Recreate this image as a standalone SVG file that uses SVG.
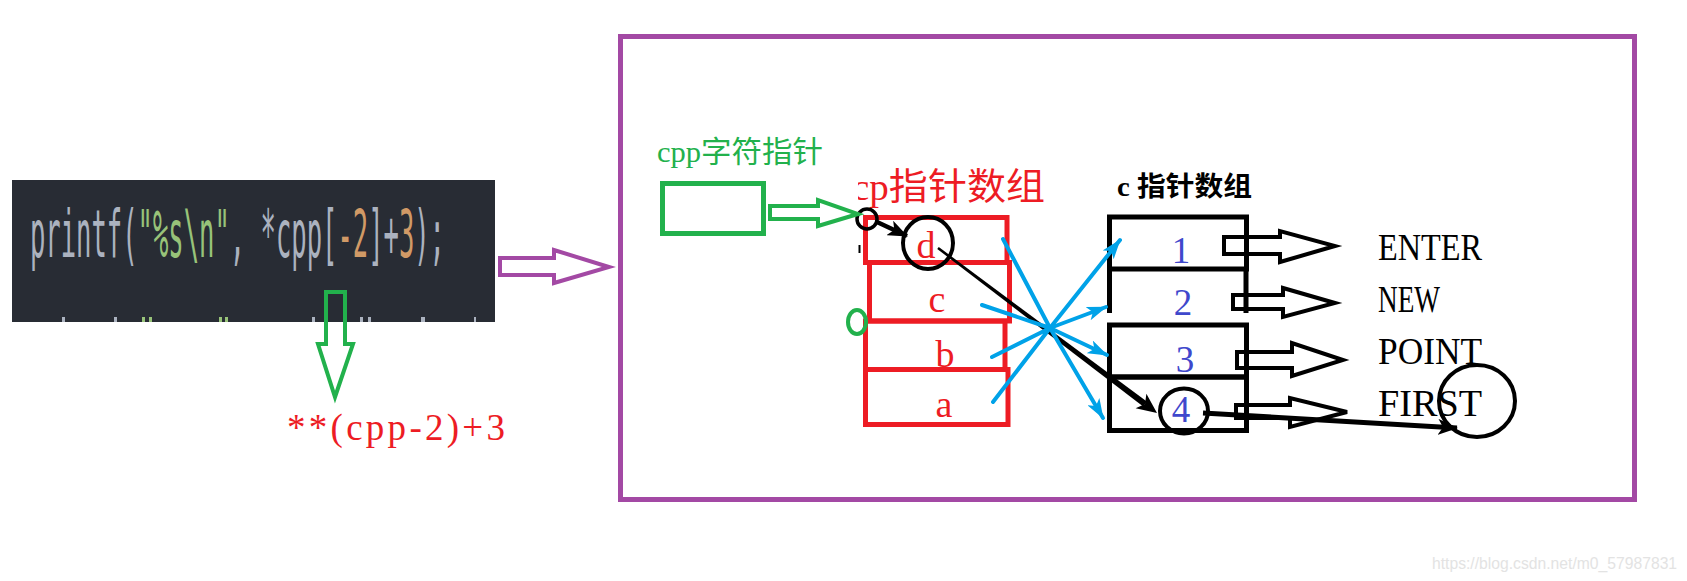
<svg xmlns="http://www.w3.org/2000/svg" width="1687" height="581" viewBox="0 0 1687 581">
<style>
.serif{font-family:"Liberation Serif","Noto Sans CJK SC",serif}
.cjk{font-family:"Liberation Serif","Noto Sans CJK SC",sans-serif}
.red{fill:#ed1c24}
.grn{fill:#22b14c}
.digit{fill:#3f48cc;font-size:37px;text-anchor:middle}
.letter{fill:#ed1c24;font-size:38px;text-anchor:middle}
.lbl{fill:#000;font-size:38px}
.rcell{fill:none;stroke:#ed1c24;stroke-width:5}
.bcell{fill:none;stroke:#000;stroke-width:5}
.hollow{fill:none;stroke:#000;stroke-width:4;stroke-linejoin:miter}
.blue{stroke:#00a2e8;stroke-width:4;stroke-linecap:round;fill:none}
.frag{fill:#abb2bf}
.fragg{fill:#98c379}
</style>
<defs>
<marker id="bh" viewBox="0 0 20 14" refX="19" refY="7" markerWidth="20" markerHeight="14" orient="auto" markerUnits="userSpaceOnUse"><path d="M0,0 L20,7 L0,14 L5,7 z" fill="#00a2e8"/></marker>
<marker id="kh" viewBox="0 0 20 16" refX="19" refY="8" markerWidth="20" markerHeight="16" orient="auto" markerUnits="userSpaceOnUse"><path d="M0,0 L20,8 L0,16 L5,8 z" fill="#000"/></marker>
<clipPath id="titleClip"><rect x="858" y="150" width="220" height="70"/></clipPath>
</defs>
<rect width="1687" height="581" fill="#fff"/>

<g id="code">
<rect x="12" y="180" width="483" height="142" fill="#282c34"/>
<text transform="translate(30,257) scale(1,2.6)" font-family="'DejaVu Sans Mono',monospace" font-size="25.5" textLength="415" lengthAdjust="spacingAndGlyphs" fill="#abb2bf">printf(<tspan fill="#98c379">"%s\n"</tspan>, *cpp[<tspan fill="#d19a66">-2</tspan>]+<tspan fill="#d19a66">3</tspan>);</text>
<rect class="frag" x="62" y="317" width="3" height="5"/>
<rect class="frag" x="114" y="317" width="3" height="5"/>
<rect class="fragg" x="142" y="317" width="3" height="5"/>
<rect class="fragg" x="149" y="317" width="3" height="5"/>
<rect class="fragg" x="219" y="317" width="3" height="5"/>
<rect class="fragg" x="225" y="317" width="3" height="5"/>
<rect class="frag" x="312" y="317" width="3" height="5"/>
<rect class="frag" x="360" y="317" width="3" height="5"/>
<rect class="frag" x="368" y="317" width="3" height="5"/>
<rect class="frag" x="421" y="317" width="4" height="5"/>
<rect class="frag" x="474" y="317" width="2" height="5"/>
</g>

<g id="formula">
<text class="serif red" x="287" y="440" font-size="37" textLength="218" lengthAdjust="spacing">**(cpp-2)+3</text>
</g>

<g id="frame">
<rect x="620.5" y="36.5" width="1014" height="463" fill="none" stroke="#a349a4" stroke-width="5"/>
</g>

<g id="cpp">
<text class="cjk grn" x="657" y="162" font-size="30" textLength="166" lengthAdjust="spacingAndGlyphs">cpp字符指针</text>
<rect x="662.5" y="183.5" width="101" height="50" fill="none" stroke="#22b14c" stroke-width="5"/>
</g>

<g id="cp">
<text class="cjk red" x="852" y="200" font-size="37" textLength="193" lengthAdjust="spacingAndGlyphs" clip-path="url(#titleClip)">cp指针数组</text>
<rect class="rcell" x="865.5" y="217.5" width="141.5" height="45"/>
<rect class="rcell" x="869.5" y="262.5" width="140" height="58.5"/>
<rect class="rcell" x="865.5" y="321" width="139.5" height="48.5"/>
<rect class="rcell" x="865.5" y="369.5" width="142.5" height="55"/>
<text class="serif letter" x="926" y="258">d</text>
<text class="serif letter" x="937" y="312">c</text>
<text class="serif letter" x="945" y="367">b</text>
<text class="serif letter" x="944" y="417">a</text>
<ellipse cx="928" cy="243" rx="25" ry="26" fill="none" stroke="#000" stroke-width="4"/>
<circle cx="867" cy="219" r="10" fill="none" stroke="#000" stroke-width="3.5"/>
<rect x="858.5" y="245" width="2" height="8" fill="#000"/>
<ellipse cx="857" cy="322" rx="9" ry="12" fill="none" stroke="#22b14c" stroke-width="4"/>
</g>

<g id="c">
<text class="cjk" x="1117" y="196" font-size="27" font-weight="bold" textLength="135" lengthAdjust="spacingAndGlyphs" fill="#000">c 指针数组</text>
<rect class="bcell" x="1109.5" y="217" width="137" height="52"/>
<path class="bcell" d="M1109.5,269 V313 M1246,269 V313"/>
<rect class="bcell" x="1109.5" y="325" width="137" height="52"/>
<rect class="bcell" x="1109.5" y="377" width="137" height="53.5"/>
<text class="serif digit" x="1181" y="263">1</text>
<text class="serif digit" x="1183" y="315">2</text>
<text class="serif digit" x="1185" y="372">3</text>
<text class="serif digit" x="1181" y="422">4</text>
<ellipse cx="1184" cy="411" rx="24" ry="22.5" fill="none" stroke="#000" stroke-width="4"/>
</g>

<g id="strings">
<text class="serif lbl" x="1378" y="260" textLength="104" lengthAdjust="spacingAndGlyphs">ENTER</text>
<text class="serif lbl" x="1378" y="312" textLength="62" lengthAdjust="spacingAndGlyphs">NEW</text>
<text class="serif lbl" x="1378" y="364" textLength="104" lengthAdjust="spacingAndGlyphs">POINT</text>
<text class="serif lbl" x="1378" y="416" textLength="104" lengthAdjust="spacingAndGlyphs">FIRST</text>
<ellipse cx="1477" cy="401" rx="38" ry="36" fill="none" stroke="#000" stroke-width="4"/>
</g>

<g id="watermark">
<text x="1432" y="569" font-family="'Liberation Sans',sans-serif" font-size="15.7" fill="#e3e3e3">https://blog.csdn.net/m0_57987831</text>
</g>

<g id="connectors">
<polygon points="500,258 554,258 554,250 609,267 554,283 554,275 500,275" fill="none" stroke="#a349a4" stroke-width="4"/>
<polygon points="326,292 345,292 345,344 353,344 335,397 318,344 326,344" fill="none" stroke="#22b14c" stroke-width="4"/>
<polygon points="770,206 818,206 818,200 858,214 818,226 818,219 770,219" fill="none" stroke="#22b14c" stroke-width="4"/>
<line x1="877" y1="222" x2="907" y2="236" stroke="#000" stroke-width="4.5" marker-end="url(#kh)"/>
<polygon points="937.25,249 1143.2,406.4 1146.8,401.6 938.75,247" fill="#000"/>
<polygon points="1157,413 1135.6,408.2 1145,404 1146.4,393.8" fill="#000"/>
<line x1="1203" y1="413" x2="1457" y2="428" stroke="#000" stroke-width="5" marker-end="url(#kh)"/>
<polygon class="hollow" points="1224,237 1280,237 1280,231 1335,246 1280,262 1280,254 1224,254"/>
<polygon class="hollow" points="1233,295 1283,295 1283,288 1335,303 1283,317 1283,309 1233,309"/>
<polygon class="hollow" points="1237,352 1292,352 1292,343 1343,360 1292,376 1292,368 1237,368"/>
<polygon class="hollow" points="1236,405 1290,405 1290,398 1347,412 1290,427 1290,418 1236,418"/>
<path class="blue" d="M1003,239 L1050,328 M982,305 L1050,328 M992,357 L1050,328 M993,402 L1050,328"/>
<line class="blue" x1="1050" y1="328" x2="1120" y2="240" marker-end="url(#bh)"/>
<line class="blue" x1="1050" y1="328" x2="1106" y2="307" marker-end="url(#bh)"/>
<line class="blue" x1="1050" y1="328" x2="1107" y2="355" marker-end="url(#bh)"/>
<line class="blue" x1="1050" y1="328" x2="1103" y2="418" marker-end="url(#bh)"/>
</g>
</svg>
